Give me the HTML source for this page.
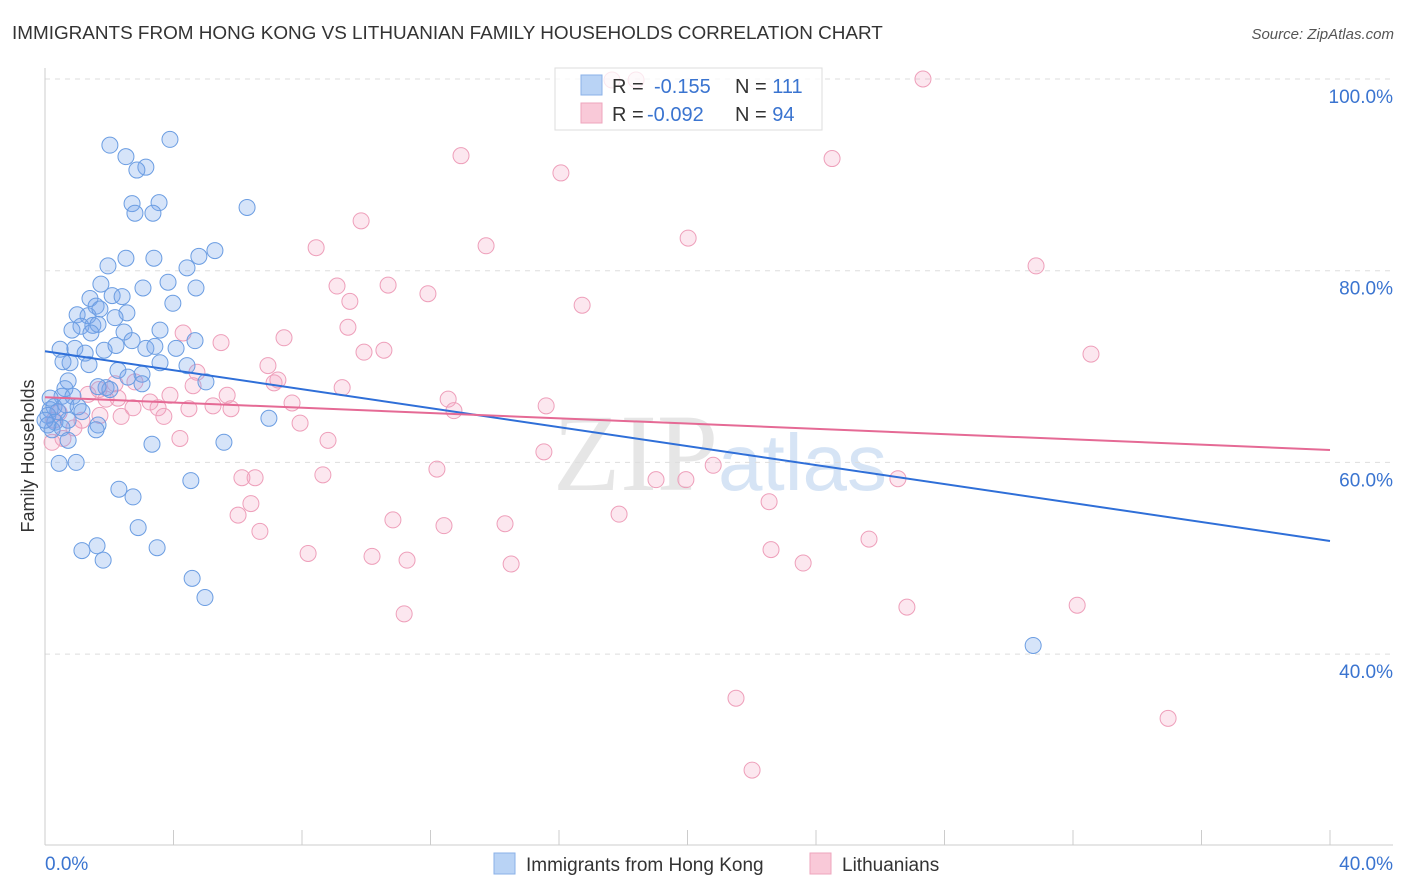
<!DOCTYPE html>
<html><head><meta charset="utf-8"><style>
body{margin:0;background:#fff;font-family:"Liberation Sans",sans-serif;}
svg{display:block}
</style></head><body>
<svg id="chart" width="1406" height="892">
<text x="12" y="39" font-size="18.9" fill="#333">IMMIGRANTS FROM HONG KONG VS LITHUANIAN FAMILY HOUSEHOLDS CORRELATION CHART</text>
<text x="1394" y="39" font-size="15" fill="#555" font-style="italic" text-anchor="end">Source: ZipAtlas.com</text>
<text x="720" y="490" font-size="110" fill="#e6e6e6" font-family="Liberation Serif,serif" text-anchor="middle">ZIP<tspan fill="#d6e4f5" font-family="Liberation Sans,sans-serif" font-size="80">atlas</tspan></text>
<g id="grid"></g>
<g id="axes"></g>
<g id="marks"></g>
<text transform="translate(34,456) rotate(-90)" font-size="18" fill="#333" text-anchor="middle">Family Households</text>
<g>
<rect x="555" y="68" width="267" height="62" fill="rgba(255,255,255,0.75)" stroke="#ddd"/>
<rect x="581" y="75" width="21" height="20" fill="#b9d3f5" stroke="#8ab0e8"/>
<rect x="581" y="103" width="21" height="20" fill="#f9c9d8" stroke="#eea5bd"/>
<text x="612" y="93" font-size="20" fill="#333">R = <tspan fill="#3a74d0" x="654">-0.155</tspan><tspan fill="#333" x="735">N = </tspan><tspan fill="#3a74d0">111</tspan></text>
<text x="612" y="121" font-size="20" fill="#333">R = <tspan fill="#3a74d0" x="647">-0.092</tspan><tspan fill="#333" x="735">N = </tspan><tspan fill="#3a74d0">94</tspan></text>
</g>
<g>
<rect x="494" y="853" width="21" height="21" fill="#b9d3f5" stroke="#8ab0e8"/>
<text x="526" y="871" font-size="19" fill="#333">Immigrants from Hong Kong</text>
<rect x="810" y="853" width="21" height="21" fill="#f9c9d8" stroke="#eea5bd"/>
<text x="842" y="871" font-size="19" fill="#333">Lithuanians</text>
</g>
</svg>
<script>
const blueX=[2.02,2.52,3.14,2.86,3.89,2.71,3.55,2.80,3.36,6.29,5.29,2.52,3.39,1.96,4.42,4.79,3.83,4.70,3.05,1.74,1.40,2.09,2.40,1.59,3.98,1.00,1.34,1.71,2.55,1.12,1.49,1.65,2.18,3.58,0.84,1.43,2.46,0.47,0.93,1.84,2.21,2.71,3.14,3.42,4.08,4.67,1.25,0.78,0.56,1.37,2.27,3.58,4.42,3.02,2.58,0.72,0.62,1.90,3.02,5.01,0.53,0.87,2.02,1.65,0.28,0.65,1.03,0.16,0.40,0.09,1.15,0.31,0.72,0.22,0.53,1.65,1.59,0.72,3.33,5.57,6.97,0.44,0.97,4.54,2.30,2.74,2.90,1.62,1.15,3.49,1.81,4.58,4.98,30.76,0.09,0,0.16];
const blueY=[93.1,91.9,90.8,90.5,93.7,87.0,87.1,86.0,86.0,86.6,82.1,81.3,81.3,80.5,80.3,81.5,78.8,78.2,78.2,78.6,77.1,77.4,77.3,76.3,76.6,75.4,75.3,76.0,75.6,74.2,74.3,74.4,75.1,73.8,73.8,73.5,73.6,71.8,71.9,71.7,72.2,72.7,71.9,72.1,71.9,72.7,71.4,70.4,70.5,70.2,69.6,70.4,70.1,69.2,68.9,68.5,67.7,67.8,68.2,68.4,66.9,66.9,67.6,67.9,65.8,66.0,65.8,65.5,65.3,64.9,65.3,64.2,64.4,63.4,63.6,63.9,63.4,62.3,61.9,62.1,64.6,59.9,60.0,58.1,57.2,56.4,53.2,51.3,50.8,51.1,49.8,47.9,45.9,40.9,63.9,64.4,66.7];
const pinkX=[17.65,18.40,27.33,12.95,16.06,24.50,9.84,8.44,13.73,20.02,30.85,9.09,10.68,11.92,9.49,16.72,7.44,9.43,9.93,10.55,32.56,4.30,5.48,6.94,7.25,7.13,9.25,4.73,4.61,5.67,2.18,2.80,1.68,1.34,2.27,3.27,3.89,12.55,15.60,12.73,7.69,7.94,5.23,5.79,4.48,2.74,3.52,3.70,2.37,1.15,0.44,0.90,0.56,0.22,0.28,4.20,8.81,15.53,12.20,6.13,6.54,8.65,19.02,19.95,20.80,26.55,22.54,6.41,6.01,10.83,12.42,14.32,17.87,6.69,25.65,8.19,10.18,11.27,14.51,22.60,23.60,26.83,32.13,11.18,21.51,34.96,22.01,1.90,1.71];
const pinkY=[99.9,99.9,100,92.0,90.2,91.7,85.2,82.4,82.6,83.4,80.5,78.4,78.5,77.6,76.8,76.4,73.0,74.1,71.5,71.7,71.3,73.5,72.5,70.1,68.6,68.3,67.8,69.4,68.0,67.0,68.2,68.4,67.6,67.1,66.7,66.3,67.0,66.6,65.9,65.4,66.2,64.1,65.9,65.6,65.6,65.7,65.7,64.8,64.8,64.4,65.2,63.6,62.5,62.1,64.4,62.5,62.3,61.1,59.3,58.4,58.4,58.7,58.2,58.2,59.7,58.3,55.9,55.7,54.5,54.0,53.4,53.6,54.6,52.8,52.0,50.5,50.2,49.8,49.4,50.9,49.5,44.9,45.1,44.2,35.4,33.3,27.9,66.6,64.9];
const blueLine=[71.6,51.8];
const pinkLine=[66.8,61.3];
const yTicks=[100,80,60,40];
const xTicks=[0,4,8,12,16,20,24,28,32,36,40];
const NS="http://www.w3.org/2000/svg";
const sx=v=>45+v*(1285/40);
const sy=v=>79+(100-v)*9.585;
function mk(tag,attrs,parent){const e=document.createElementNS(NS,tag);for(const k in attrs)e.setAttribute(k,attrs[k]);parent.appendChild(e);return e;}
const grid=document.getElementById('grid'),axes=document.getElementById('axes'),marks=document.getElementById('marks');
yTicks.forEach(t=>{
 const l=mk('line',{x1:45,x2:1393,y1:sy(t),y2:sy(t),stroke:'#ddd','stroke-dasharray':'5,5'},grid);
 
 
 const tx=mk('text',{x:1393,y:sy(t)+24,'font-size':19,fill:'#3a74d0','text-anchor':'end'},axes);
 tx.textContent=t.toFixed(1)+'%';
 
 
});
const ax=mk('line',{x1:45,x2:45,y1:68,y2:845,stroke:'#ccc'},axes);


const bx=mk('line',{x1:45,x2:1393,y1:845,y2:845,stroke:'#ccc'},axes);


xTicks.forEach(t=>{
 const l=mk('line',{x1:sx(t),x2:sx(t),y1:830,y2:845,stroke:'#ccc'},axes);
 
 
});
[[0,'start',45],[40,'end',1393]].forEach(([t,a,x])=>{
 const tx=mk('text',{x:x,y:870,'font-size':19,fill:'#3a74d0','text-anchor':a},axes);
 tx.textContent=t.toFixed(1)+'%';
 
 
});
function pts(X,Y,fill,stroke,name){
 X.forEach((x,i)=>{
  const c=mk('circle',{cx:sx(x),cy:sy(Y[i]),r:8,fill:fill,stroke:stroke,'stroke-width':1},marks);
  
  
 });
}
pts(pinkX,pinkY,'rgba(244,160,190,0.25)','#ee9fba','point-lithuanians');
pts(blueX,blueY,'rgba(120,165,235,0.3)','#6b9de2','point-hong-kong');
const bl=mk('line',{x1:sx(0),y1:sy(blueLine[0]),x2:sx(40),y2:sy(blueLine[1]),stroke:'#2f6fd8','stroke-width':2},marks);


const pl=mk('line',{x1:sx(0),y1:sy(pinkLine[0]),x2:sx(40),y2:sy(pinkLine[1]),stroke:'#e56a95','stroke-width':2},marks);


</script>
</body></html>
